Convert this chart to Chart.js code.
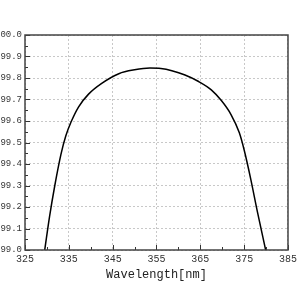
<!DOCTYPE html>
<html>
<head>
<meta charset="utf-8">
<script src="https://cdn.jsdelivr.net/npm/chart.js@4"></script>
<style>
  html, body { margin: 0; padding: 0; background: #fff; }
  #wrap { width: 300px; height: 300px; }
</style>
</head>
<body>
<div id="wrap"><canvas id="transChart" width="300" height="300"></canvas></div>
<script>
var wavelength = [329.5, 330.6, 331.8, 333.2, 334.3, 335.5, 337.2, 339.5, 342.5, 346.4, 350.0, 353.5, 356.0, 358.5, 361.5, 364.5, 367.5, 369.8, 372.0, 373.9, 375.0, 376.5, 378.0, 379.9];
var transmittance = [99.0, 99.155, 99.30, 99.445, 99.53, 99.595, 99.665, 99.725, 99.775, 99.82, 99.838, 99.846, 99.844, 99.834, 99.814, 99.785, 99.745, 99.695, 99.63, 99.545, 99.465, 99.33, 99.18, 99.0];
var xTicks = [325, 335, 345, 355, 365, 375, 385];
var yTicks = [99.0, 99.1, 99.2, 99.3, 99.4, 99.5, 99.6, 99.7, 99.8, 99.9, 100.0];

var points = wavelength.map(function(w, i) { return { x: w, y: transmittance[i] }; });
var fontFam = '"Liberation Mono", "DejaVu Sans Mono", monospace';

// frame + inward ticks
var framePlugin = {
    id: 'frame',
    afterDraw: function(chart) {
        var ctx = chart.ctx, a = chart.chartArea;
        var xs = chart.scales.x, ys = chart.scales.y;
        ctx.save();
        ctx.strokeStyle = '#333';
        ctx.lineWidth = 1;
        ctx.beginPath();
        for (var v = 325; v <= 385; v += 5) {
            var px = Math.round(xs.getPixelForValue(v)) + 0.5;
            var len = (v - 325) % 10 === 0 ? 5 : 3;
            ctx.moveTo(px, a.bottom);
            ctx.lineTo(px, a.bottom - len);
        }
        for (var k = 0; k <= 20; k++) {
            var val = 99 + k * 0.05;
            var py = Math.round(ys.getPixelForValue(val)) + 0.5;
            var l = k % 2 === 0 ? 5 : 3;
            ctx.moveTo(a.left, py);
            ctx.lineTo(a.left + l, py);
        }
        ctx.stroke();
        ctx.lineWidth = 1.5;
        ctx.strokeStyle = '#444';
        ctx.strokeRect(a.left, a.top, a.right - a.left, a.bottom - a.top);
        ctx.restore();
    }
};

var ctx = document.getElementById('transChart').getContext('2d');
var transChart = new Chart(ctx, {
    type: 'scatter',
    data: {
        datasets: [{
            data: points,
            showLine: true,
            borderColor: '#000',
            borderWidth: 1.5,
            pointRadius: 0,
            cubicInterpolationMode: 'monotone',
            fill: false
        }]
    },
    options: {
        responsive: false,
        animation: false,
        layout: { padding: { top: 35, right: 9, left: 0, bottom: 18 } },
        plugins: { legend: { display: false }, tooltip: { enabled: false } },
        scales: {
            x: {
                type: 'linear',
                min: 325,
                max: 385,
                afterBuildTicks: function(scale) {
                    scale.ticks = xTicks.map(function(v) { return { value: v }; });
                },
                afterFit: function(scale) { scale.height = 32; },
                grid: { color: '#c8c8c8', drawTicks: false },
                border: { display: false, dash: [2, 2] },
                ticks: { color: '#333', padding: 3, font: { family: fontFam, size: 10 } },
                title: { display: true, text: 'Wavelength[nm]', color: '#222', padding: { top: 1, bottom: 0 }, font: { family: fontFam, size: 12 } }
            },
            y: {
                min: 99.0,
                max: 100.0,
                afterBuildTicks: function(scale) {
                    scale.ticks = yTicks.map(function(v) { return { value: v }; });
                },
                afterFit: function(scale) { scale.width = 25; },
                grid: { color: '#c8c8c8', drawTicks: false },
                border: { display: false, dash: [2, 2] },
                ticks: {
                    color: '#333', padding: 3, font: { family: fontFam, size: 9 },
                    callback: function(v) { return v.toFixed(1); }
                }
            }
        }
    },
    plugins: [framePlugin]
});
</script>
</body>
</html>
